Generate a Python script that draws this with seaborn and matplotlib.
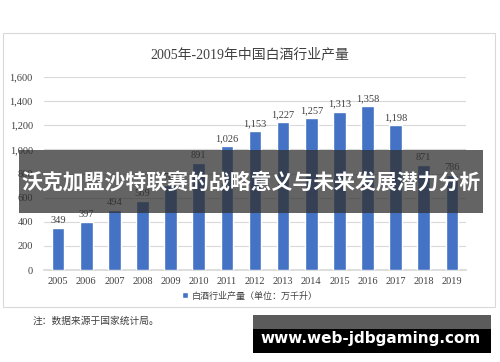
import matplotlib
matplotlib.use("Agg")
import matplotlib.pyplot as plt
import seaborn as sns
import pandas as pd
from matplotlib.patches import Rectangle

years = ["2005", "2006", "2007", "2008", "2009", "2010", "2011", "2012",
         "2013", "2014", "2015", "2016", "2017", "2018", "2019"]
output = [349, 397, 494, 569, 707, 891, 1026, 1153, 1227, 1257, 1313, 1358, 1198, 871, 786]
y_ticks = [0, 200, 400, 600, 800, 1000, 1200, 1400, 1600]

title = "2005年-2019年中国白酒行业产量"
legend_label = "白酒行业产量（单位：万千升）"
note = "注：数据来源于国家统计局。"
banner = "沃克加盟沙特联赛的战略意义与未来发展潜力分析"
site = "www.web-jdbgaming.com"

sns.set_theme(style="white")
plt.rcParams['font.family'] = ['Liberation Serif', 'Noto Sans CJK SC', 'DejaVu Sans']

df = pd.DataFrame({"year": years, "value": output})

W, H = 500, 362
fig = plt.figure(figsize=(5, 3.62), dpi=100)

# chart frame
fig.patches.append(Rectangle((3 / W, 1 - 307 / H), 492 / W, 274 / H, transform=fig.transFigure,
                             facecolor="white", edgecolor="#d9d9d9", lw=0.8, zorder=-5))

ax = fig.add_axes([44 / W, 1 - 270 / H, 422 / W, 193 / H])
ax.set_zorder(1)
ax.set_facecolor("none")
sns.barplot(data=df, x="year", y="value", color="#4472c4", width=0.45, saturation=1,
            ax=ax, label=legend_label, zorder=3)
ax.set_ylim(0, 1600)
ax.set_xlim(-0.5, len(years) - 0.5)
ax.set_yticks(y_ticks)
ax.set_yticklabels([f"{v:,}" for v in y_ticks], fontsize=7.5, color="#404040")
ax.tick_params(axis="x", labelsize=7.5, labelcolor="#404040", length=0, pad=5)
ax.tick_params(axis="y", length=0, pad=8)
ax.grid(axis="y", color="#d9d9d9", lw=0.8, zorder=0)
ax.set_axisbelow(True)
for s in ["top", "right", "left"]:
    ax.spines[s].set_visible(False)
ax.spines["bottom"].set_color("#d9d9d9")
ax.set_xlabel("")
ax.set_ylabel("")
for i, v in enumerate(output):
    ax.text(i, v + 25, f"{v:,}", ha="center", va="bottom", fontsize=7.5, color="#404040")

ax.legend(loc="center", bbox_to_anchor=(250 / W, 1 - 296 / H), bbox_transform=fig.transFigure,
          frameon=False, prop={"family": ["Noto Sans CJK SC"], "size": 6.5},
          handlelength=0.6, handleheight=0.6, handletextpad=0.4, labelcolor="#404040")

fig.text(250 / W, 1 - 55 / H, title, ha="center", va="center", fontsize=10, color="#404040")
fig.text(33 / W, 1 - 321 / H, note, ha="left", va="center", fontsize=7,
         family=["Noto Sans CJK SC"], color="#404040")

# overlay banner
fig.patches.append(Rectangle((19 / W, 1 - 213 / H), 464 / W, 63 / H, transform=fig.transFigure,
                             facecolor="#303030", alpha=0.75, lw=0, zorder=10))
fig.text(251 / W, 1 - 182 / H, banner, ha="center", va="center", fontsize=15, weight="bold",
         color="white", family=["Noto Sans CJK SC"], zorder=11)

# site box
fig.patches.append(Rectangle((253 / W, 1 - 353 / H), 238 / W, 38 / H, transform=fig.transFigure,
                             facecolor="black", lw=0, zorder=10))
fig.patches.append(Rectangle((253 / W, 1 - 329 / H), 238 / W, 14 / H, transform=fig.transFigure,
                             facecolor="#666666", alpha=0.9, lw=0, zorder=10))
fig.text(371 / W, 1 - 338 / H, site, ha="center", va="center", fontsize=11, weight="bold",
         color="white", family=["DejaVu Sans"], zorder=11)

fig.savefig("out.png", dpi=100)
